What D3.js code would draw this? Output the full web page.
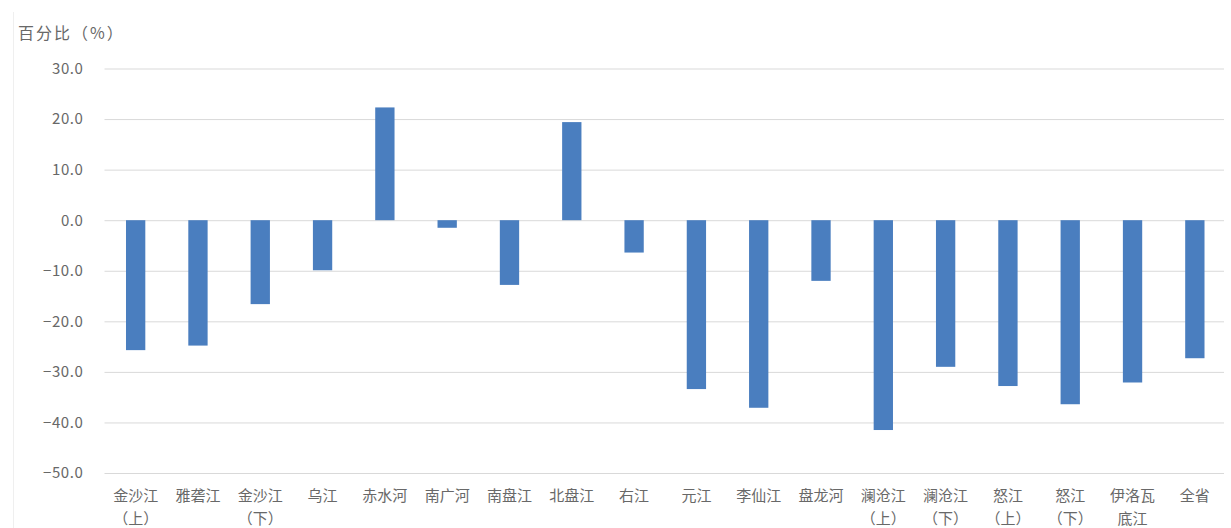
<!DOCTYPE html>
<html>
<head>
<meta charset="utf-8">
<script src="https://cdn.jsdelivr.net/npm/d3@7"></script>
<style>
  html, body { margin: 0; padding: 0; background: #fff; }
  svg { display: block; font-family: "Noto Sans CJK SC", "Noto Sans", sans-serif; }
</style>
</head>
<body>
<svg id="chart" width="1231" height="528"></svg>
<script>
// River basins (label lines) and percentage change for each
const basins = [
  ["金沙江", "（上）"], ["雅砻江"], ["金沙江", "（下）"], ["乌江"], ["赤水河"],
  ["南广河"], ["南盘江"], ["北盘江"], ["右江"], ["元江"], ["李仙江"], ["盘龙河"],
  ["澜沧江", "（上）"], ["澜沧江", "（下）"], ["怒江", "（上）"], ["怒江", "（下）"],
  ["伊洛瓦", "底江"], ["全省"]
];
const changes = [
  -25.7, -24.8, -16.6, -9.9, 22.3, -1.5, -12.8, 19.4, -6.4,
  -33.4, -37.1, -12.0, -41.5, -29.0, -32.8, -36.4, -32.1, -27.3
];
const yTicks = [30, 20, 10, 0, -10, -20, -30, -40, -50];
const yTitle = "百分比（%）";

const textColor = "#686868";
const svg = d3.select("#chart");
const plotLeft = 104.5, plotRight = 1226, plotTop = 68.5, plotBottom = 473;

const keys = basins.map(d => d.join(""));
const x = d3.scaleBand().domain(keys).range([plotLeft, plotRight]).paddingInner(0.69).paddingOuter(0.345);
const y = d3.scaleLinear().domain([-50, 30]).range([plotBottom, plotTop]);

// faint chart border on the left
svg.append("line").attr("x1", 13.5).attr("x2", 13.5).attr("y1", 12).attr("y2", 528)
  .attr("stroke", "#efefef").attr("stroke-width", 1);

// gridlines and tick labels
const yAxis = svg.append("g").attr("transform", `translate(${plotLeft},0)`)
  .call(d3.axisLeft(y).tickValues(yTicks).tickSize(-(1224 - plotLeft)).tickPadding(21)
    .tickFormat(d => d3.format(".1f")(d)));
yAxis.select(".domain").remove();
yAxis.selectAll(".tick line").attr("stroke", "#d9d9d9").attr("stroke-width", 1);
yAxis.selectAll(".tick text").attr("fill", textColor).attr("font-size", 15)
  .attr("letter-spacing", 0.6)
  .attr("font-family", "\"Noto Sans CJK SC\", sans-serif");

// bars
svg.append("g").selectAll("rect").data(changes).join("rect")
  .attr("x", (d, i) => x(keys[i]))
  .attr("width", x.bandwidth())
  .attr("y", d => y(Math.max(0, d)))
  .attr("height", d => Math.abs(y(d) - y(0)))
  .attr("fill", "#4a7ebf");

// category labels
const cat = svg.append("g").selectAll("text").data(basins).join("text")
  .attr("x", (d, i) => x(keys[i]) + x.bandwidth() / 2)
  .attr("y", 501)
  .attr("text-anchor", "middle")
  .attr("fill", textColor)
  .attr("font-size", 15);
cat.selectAll("tspan").data(d => d).join("tspan")
  .attr("x", function () { return d3.select(this.parentNode).attr("x"); })
  .attr("dy", (d, i) => i === 0 ? 0 : 23)
  .text(d => d);

// axis title
svg.append("text").attr("x", 18).attr("y", 39).attr("fill", textColor)
  .attr("font-size", 16).attr("letter-spacing", 2).text(yTitle);
</script>
</body>
</html>
